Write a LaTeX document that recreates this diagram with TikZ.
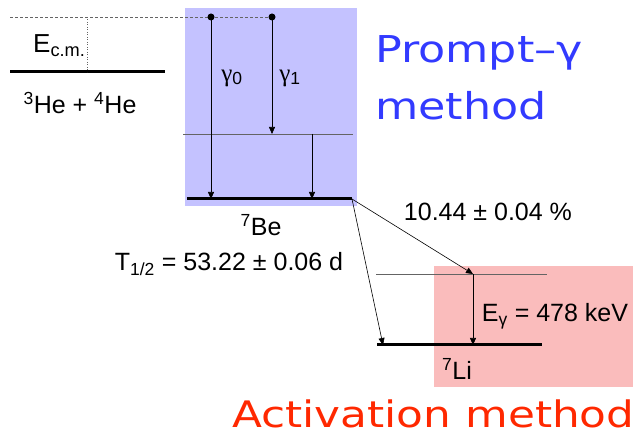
\documentclass[tikz,border=0pt]{standalone}
\usepackage{fontspec}
\setmainfont{Liberation Sans}
\newfontfamily\greekfont{Liberation Serif}
\newfontfamily\titlefont[FakeStretch=1.2]{DejaVu Sans}
\usetikzlibrary{positioning, arrows.meta}
\definecolor{promptblue}{RGB}{50,58,255}
\definecolor{actred}{RGB}{255,40,0}
\definecolor{boxblue}{RGB}{196,194,255}
\definecolor{boxred}{RGB}{250,188,188}
\definecolor{thinline}{RGB}{100,100,100}
\tikzset{
  level/.style={line width=3pt},
  sublevel/.style={line width=0.8pt, thinline},
  trans/.style={-{Triangle[length=7pt,width=6pt]}, line width=0.6pt},
  dot/.style={circle, fill, inner sep=0pt, minimum size=7pt},
  lbl/.style={font=\fontsize{25}{29}\selectfont, inner sep=0pt, anchor=base},
  title/.style={font=\titlefont\fontsize{37}{44}\selectfont, inner sep=0pt, anchor=base west},
}

\begin{document}
\begin{tikzpicture}[x=1pt,y=-1pt]
    \useasboundingbox (0,0) rectangle (641,441);
    \fill[boxblue] (185,8) rectangle (357,206);
    \fill[boxred] (434,266) rectangle (633,387);

    % levels
    \coordinate (he-l) at (10,72);    \coordinate (he-r) at (165,72);
    \coordinate (res-l) at (10,17);   \coordinate (res-r) at (272,17);
    \coordinate (bex-l) at (183,134); \coordinate (bex-r) at (353,134);
    \coordinate (be-l) at (187,199);  \coordinate (be-r) at (352,199);
    \coordinate (lix-l) at (376,274); \coordinate (lix-r) at (547,274);
    \coordinate (li-l) at (377,345);  \coordinate (li-r) at (542,345);
    \draw[level] (he-l) -- (he-r);
    \draw[dash pattern=on 3pt off 2pt, thinline, line width=0.6pt] (res-l) -- (res-r);
    \draw[sublevel] (bex-l) -- (bex-r);
    \draw[level] (be-l) -- (be-r);
    \draw[sublevel] (lix-l) -- (lix-r);
    \draw[level] (li-l) -- (li-r);

    \coordinate (ecm) at (87,17);
    \draw[thinline, dotted, line width=0.5pt] (ecm) -- (ecm |- he-l);

    % gamma transitions
    \node[dot] (g0) at (211,17) {};
    \node[dot] (g1) at (272,17) {};
    \coordinate (g2) at (312,134);
    \draw[trans] (g0.center) -- (g0 |- be-l);
    \draw[trans] (g1.center) -- (g1 |- bex-l);
    \draw[trans] (g2) -- (g2 |- be-l);

    % decay
    \coordinate (li-end) at (383,345);
    \coordinate (lix-top) at (473,274);
    \draw[trans] (be-r) -- (lix-top);
    \draw[trans] (be-r) -- (li-end);
    \draw[trans] (lix-top) -- (lix-top |- li-l);

    % labels
    \node[lbl, anchor=base west, font=\fontsize{26}{30}\selectfont] (ecm-lbl) at (33,53) {E\textsubscript{c.m.}};
    \node[lbl] (he-lbl) at (80,114) {\textsuperscript{3}He + \textsuperscript{4}He};
    \node[lbl, anchor=center] (g0-lbl) at (232,78) {{\greekfont γ}\textsubscript{0}};
    \node[lbl, anchor=center] (g1-lbl) at (290,78) {{\greekfont γ}\textsubscript{1}};
    \node[lbl] (be-lbl) at (261,236) {\textsuperscript{7}Be};
    \node[lbl] (half-lbl) at (229,271) {T\textsubscript{1/2} = 53.22 ± 0.06 d};
    \node[lbl] (br-lbl) at (488,221) {10.44 ± 0.04 \%};
    \node[lbl] (eg-lbl) at (555,322) {E\textsubscript{γ} = 478 keV};
    \node[lbl] (li-lbl) at (457,380) {\textsuperscript{7}Li};
    \node[title, text=promptblue] (prompt-lbl) at (375,63) {Prompt–γ};
    \node[title, text=promptblue] (method-lbl) at (375,120) {method};
    \node[title, text=actred, font=\titlefont\fontsize{36.5}{44}\selectfont] (act-lbl) at (232,428) {Activation method};
\end{tikzpicture}
\end{document}
